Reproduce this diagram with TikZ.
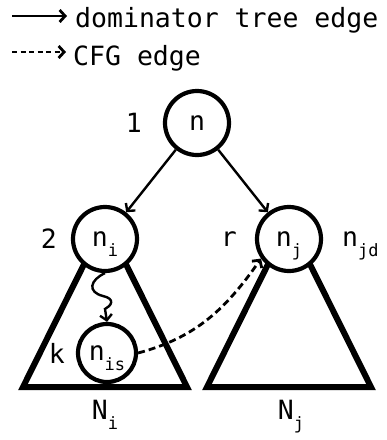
\documentclass[tikz,border=0pt]{standalone}
\usepackage{fontspec}
\setmainfont{DejaVu Sans Mono}
\usetikzlibrary{arrows.meta}
\usetikzlibrary{trees}

% subscript set smaller and lowered, kept out of the box depth
\newcommand{\nsub}[2]{#1\smash{\raisebox{-0.38em}{\fontsize{17}{17}\selectfont #2}}}

\begin{document}
\begin{tikzpicture}
[x=1pt,y=1pt,%
  tip/.style={-{Straight Barb[length=5.5pt,width=12pt]}},%
  domedge/.style={tip,line width=2.4pt},%
  cfgedge/.style={tip,line width=2.8pt,dash pattern=on 7pt off 4pt},%
  vertex/.style={shape=circle,draw,line width=4.2pt,fill=white,%
    minimum size=64pt,inner sep=0pt},%
  subtree/.style={line width=6pt,line join=miter}]
\fontsize{26.5}{30}\selectfont
\useasboundingbox (0,0) rectangle (387,-440);

% legend
\coordinate (domfrom) at (12,-16);
\coordinate (domto) at (67,-16);
\coordinate (cfgfrom) at (12,-52);
\coordinate (cfgto) at (66,-52);
\draw[domedge,line width=2.8pt] (domfrom) -- (domto);
\draw[tip,line width=2.8pt,dash pattern=on 5pt off 3.5pt] (cfgfrom) -- (cfgto);
\node[anchor=base west,inner sep=0pt] (domtext) at (75,-27) {dominator tree edge};
\node[anchor=base west,inner sep=0pt] (cfgtext) at (73,-65) {CFG edge};

% subtrees N_i and N_j
\draw[subtree] (105,-222) -- (23,-387) -- (187,-387) -- cycle;
\draw[subtree] (289,-222) -- (207,-387) -- (371,-387) -- cycle;
\node (Nilbl) at (105,-410) {\nsub{N}{i}};
\node (Njlbl) at (291,-410) {\nsub{N}{j}};

% dominator tree
\node[vertex,label={[label distance=12pt]left:1}] (n) at (197,-123) {n}
  [level distance=116pt,sibling distance=184pt,%
   edge from parent/.style={draw,domedge}]
  child {node[vertex,label={[label distance=5pt]left:2}] (ni) {\nsub{n}{i}}}
  child {node[vertex,label={[label distance=9pt]left:r},%
      label={[label distance=10pt]right:\nsub{n}{jd}}] (nj) {\nsub{n}{j}}};

\node[vertex,minimum size=58pt,label={[label distance=2pt]left:k}] (nis)
  at (107,-353) {\nsub{n}{is}};

% path inside N_i down to n_is
\draw[domedge] (ni.south) .. controls (90,-280) and (87,-292) .. (103,-296)
  .. controls (116,-299) and (111,-306) .. (105,-309) -- (nis.north);

% CFG edge leaving the subtree
\draw[cfgedge] (nis.east) to[out=15,in=235] (nj.215);
\end{tikzpicture}
\end{document}
